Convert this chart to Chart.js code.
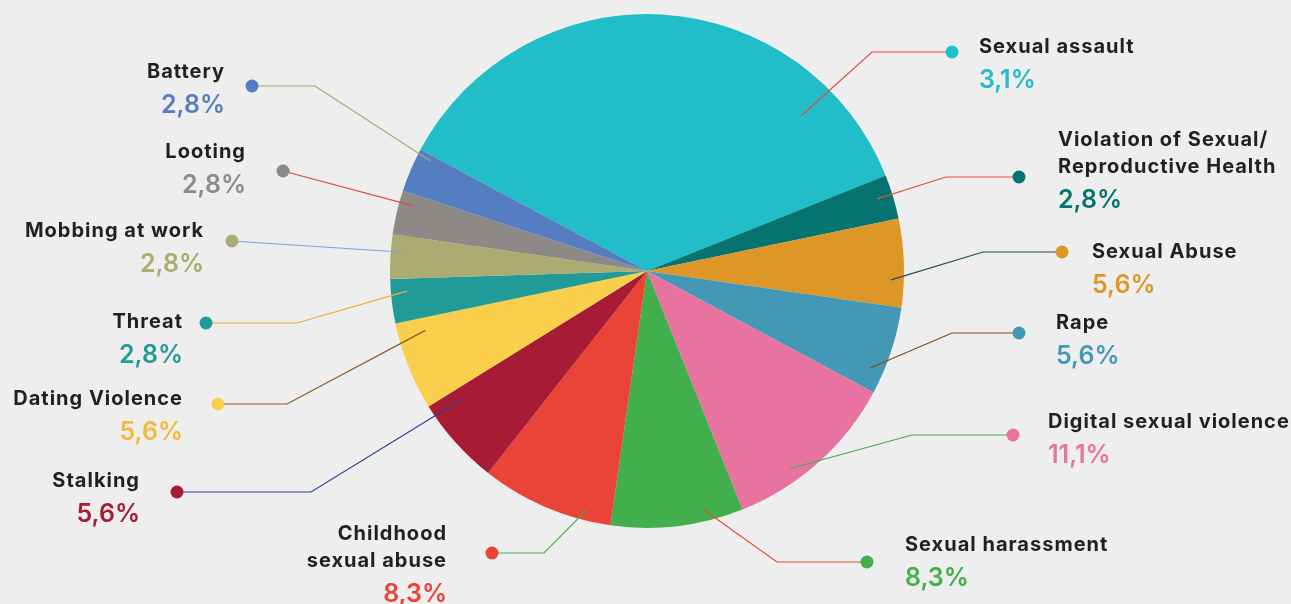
<!DOCTYPE html>
<html>
<head>
<meta charset="utf-8">
<script src="https://cdn.jsdelivr.net/npm/chart.js@4.4.0/dist/chart.umd.min.js"></script>
<style>
  html, body { margin: 0; padding: 0; background: #eeeeee; }
  #wrap { width: 1291px; height: 604px; }
</style>
</head>
<body>
<div id="wrap"><canvas id="js-chart" width="1291" height="604"></canvas></div>
<script>
'use strict';

// data (cases out of 36)
const categories = [
  'Sexual assault',
  'Violation of Sexual/\nReproductive Health',
  'Sexual Abuse',
  'Rape',
  'Digital sexual violence',
  'Sexual harassment',
  'Childhood\nsexual abuse',
  'Stalking',
  'Dating Violence',
  'Threat',
  'Mobbing at work',
  'Looting',
  'Battery'
];
const caseCounts = [13, 1, 2, 2, 4, 3, 3, 2, 2, 1, 1, 1, 1];
const percentLabels = ['3,1%', '2,8%', '5,6%', '5,6%', '11,1%', '8,3%', '8,3%', '5,6%', '5,6%', '2,8%', '2,8%', '2,8%', '2,8%'];

const sliceColors = ['#21bdc8', '#05736f', '#de9626', '#4399b5', '#e873a0', '#41af4b', '#ea4337',
  '#a81b34', '#f9cf4c', '#219b97', '#abab72', '#8d8986', '#557dc2'];
const pctColors = ['#21bdc8', '#05736f', '#de9626', '#4399b5', '#e873a0', '#41af4b', '#ea4337',
  '#a81b34', '#f6b83a', '#219b97', '#abab72', '#8d8986', '#557dc2'];

// callout layout: dot position, elbow x (null = straight), text anchor, align,
// anchor inside slice as [fraction of slice angle, fraction of radius], leader colour
const callouts = [
  { dot: [952, 52], elbow: 872, text: [979, 46], align: 'left', anchor: [0.82, 0.853], line: '#e8473b' },
  { dot: [1019, 177], elbow: 946, text: [1058, 139], align: 'left', anchor: [0.44, 0.938], line: '#e2572c' },
  { dot: [1062, 252], elbow: 983, text: [1092, 251], align: 'left', anchor: [0.695, 0.95], line: '#1e4b5d' },
  { dot: [1019, 333], elbow: 952, text: [1056, 322], align: 'left', anchor: [0.77, 0.945], line: '#7b4b1d' },
  { dot: [1013, 435], elbow: 912, text: [1048, 421], align: 'left', anchor: [0.645, 0.95], line: '#3db04a' },
  { dot: [867, 562], elbow: 777, text: [905, 544], align: 'left', anchor: [0.277, 0.957], line: '#e8473b' },
  { dot: [492, 553], elbow: 544, text: [447, 533], align: 'right', anchor: [0.2, 0.96], line: '#41af4b' },
  { dot: [177, 492], elbow: 311, text: [140, 480], align: 'right', anchor: [0.855, 0.88], line: '#2a3f95' },
  { dot: [218, 404], elbow: 287, text: [183, 398], align: 'right', anchor: [0.84, 0.893], line: '#8c5a24' },
  { dot: [206, 323], elbow: 297, text: [183, 321], align: 'right', anchor: [0.70, 0.937], line: '#f5a83a' },
  { dot: [232, 241], elbow: null, text: [204, 230], align: 'right', anchor: [0.62, 0.95], line: '#7ca5de' },
  { dot: [283, 171], elbow: null, text: [246, 151], align: 'right', anchor: [0.74, 0.943], line: '#e8473b' },
  { dot: [252, 86], elbow: 315, text: [225, 71], align: 'right', anchor: [0.87, 0.945], line: '#a9a872' }
];

const calloutPlugin = {
  id: 'callouts',
  afterDatasetsDraw(chart) {
    const ctx = chart.ctx;
    const arcs = chart.getDatasetMeta(0).data;
    arcs.forEach((arc, i) => {
      const c = callouts[i];
      const p = arc.getProps(['x', 'y', 'startAngle', 'endAngle', 'outerRadius'], true);
      const ang = p.startAngle + c.anchor[0] * (p.endAngle - p.startAngle);
      const rad = p.outerRadius * c.anchor[1];
      const ax = p.x + Math.cos(ang) * rad;
      const ay = p.y + Math.sin(ang) * rad;

      ctx.save();
      ctx.strokeStyle = c.line;
      ctx.lineWidth = 1.2;
      ctx.beginPath();
      ctx.moveTo(ax, ay);
      if (c.elbow !== null) ctx.lineTo(c.elbow, c.dot[1]);
      ctx.lineTo(c.dot[0], c.dot[1]);
      ctx.stroke();

      ctx.fillStyle = sliceColors[i];
      ctx.beginPath();
      ctx.arc(c.dot[0], c.dot[1], 6.5, 0, Math.PI * 2);
      ctx.fill();

      ctx.textAlign = c.align;
      ctx.textBaseline = 'alphabetic';
      const lines = categories[i].split('\n');
      if ('letterSpacing' in ctx) ctx.letterSpacing = '1px';
      ctx.font = '700 20px Inter';
      ctx.fillStyle = '#231f20';
      lines.forEach((t, k) => {
        ctx.fillText(t, c.text[0], c.text[1] + k * 27 + 7.3);
      });
      if ('letterSpacing' in ctx) ctx.letterSpacing = '0px';
      ctx.font = '600 25px Inter';
      ctx.fillStyle = pctColors[i];
      ctx.fillText(percentLabels[i], c.text[0], c.text[1] + (lines.length - 1) * 27 + 33 + 9);
      ctx.restore();
    });
  }
};

document.addEventListener('DOMContentLoaded', function() {
  const ctx = document.getElementById('js-chart').getContext('2d');
  new Chart(ctx, {
    type: 'pie',
    data: {
      labels: categories,
      datasets: [
        {
          data: caseCounts,
          backgroundColor: sliceColors,
          borderWidth: 0,
          hoverOffset: 0
        }
      ]
    },
    options: {
      responsive: false,
      animation: false,
      rotation: -61.8,
      layout: { padding: { left: 390, right: 387, top: 14, bottom: 76 } },
      plugins: {
        legend: { display: false },
        tooltip: { enabled: false }
      }
    },
    plugins: [calloutPlugin]
  });
});
</script>
</body>
</html>
